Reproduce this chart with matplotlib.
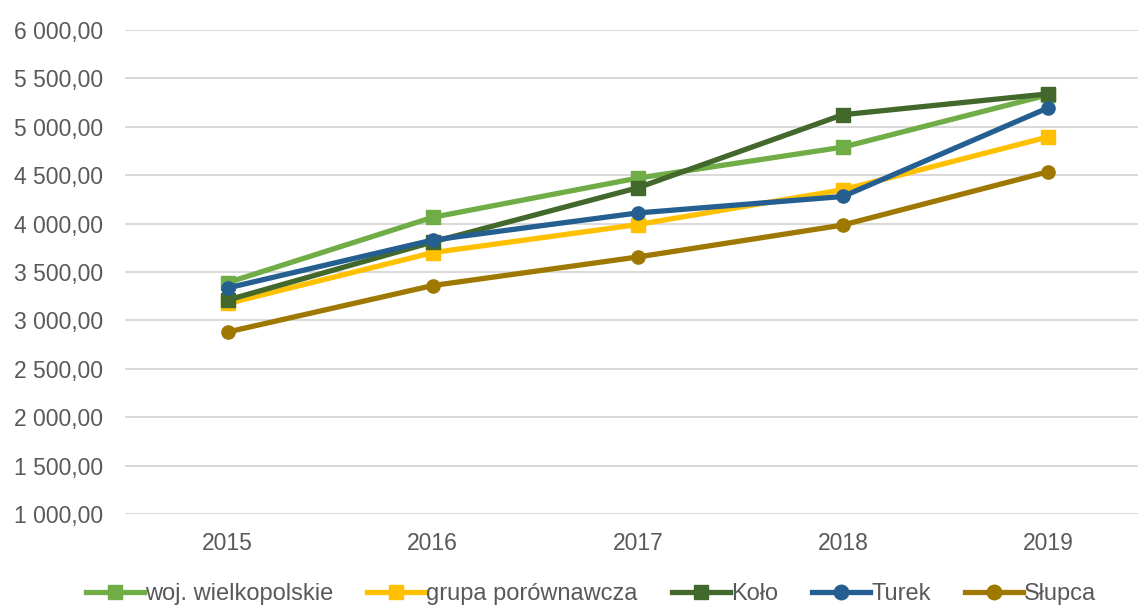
import matplotlib
matplotlib.use('Agg')
import matplotlib.pyplot as plt
from matplotlib.ticker import FuncFormatter

plt.rcParams['font.family'] = ['Liberation Sans', 'DejaVu Sans']

years = ['2015', '2016', '2017', '2018', '2019']
woj = [3390, 4065, 4470, 4790, 5330]
grupa = [3175, 3700, 3990, 4350, 4895]
kolo = [3210, 3810, 4370, 5125, 5340]
turek = [3335, 3830, 4110, 4280, 5195]
slupca = [2880, 3360, 3655, 3985, 4535]

series = [
    ('woj. wielkopolskie', woj, '#70AD47', 's'),
    ('grupa porównawcza', grupa, '#FFC000', 's'),
    ('Koło', kolo, '#43682B', 's'),
    ('Turek', turek, '#255E91', 'o'),
    ('Słupca', slupca, '#9E7800', 'o'),
]

fig = plt.figure(figsize=(11.38, 6.06), dpi=100)
ax = fig.add_axes([125 / 1138, 1 - 514 / 606, 1 - 125 / 1138, (514 - 30) / 606])

x = range(len(years))
for name, vals, col, mk in series:
    ax.plot(x, vals, color=col, lw=3.8, marker=mk, markersize=9.5,
            label=name, clip_on=False, zorder=3)

ax.set_xlim(-0.5, (1138 - 228) / 205)
ax.set_ylim(1000, 6000)
ax.set_yticks(range(1000, 6001, 500))
ax.set_xticks(list(x))
ax.set_xticklabels(years)
ax.yaxis.set_major_formatter(FuncFormatter(lambda v, p: f"{int(v):,}".replace(',', ' ') + ',00'))
ax.grid(axis='y', color='#D9D9D9', lw=1.4)
ax.set_axisbelow(True)
for s in ax.spines.values():
    s.set_visible(False)
ax.tick_params(length=0, labelsize=16.5, colors='#595959')
ax.tick_params(axis='y', pad=16)
ax.tick_params(axis='x', pad=13)

fig.legend(loc='center', bbox_to_anchor=(591 / 1138, 1 - 594 / 606), ncol=5,
           frameon=False, fontsize=17, handlelength=2.45, columnspacing=1.45,
           handletextpad=0.05, labelcolor='#595959', borderpad=0, markerscale=1.1)

fig.savefig('out.png', dpi=100)
